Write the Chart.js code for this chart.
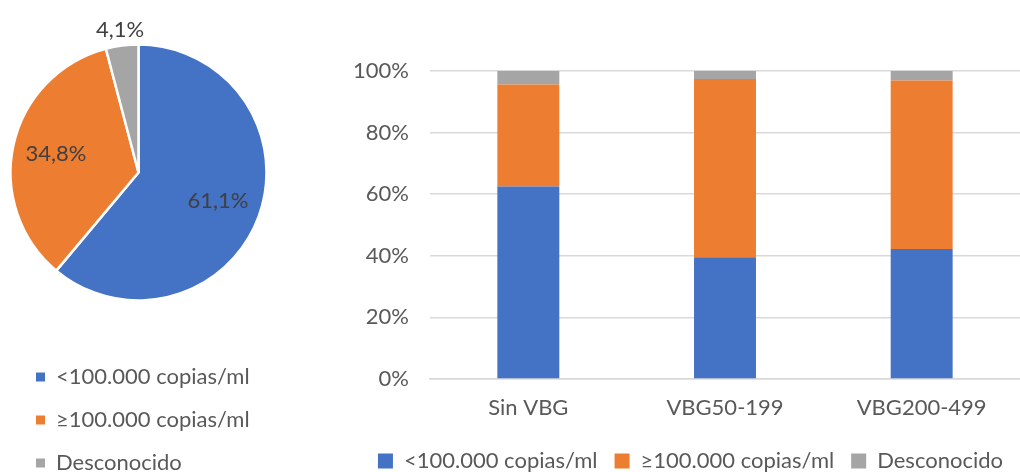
<!DOCTYPE html>
<html>
<head>
<meta charset="utf-8">
<script src="https://cdn.jsdelivr.net/npm/chart.js@4.4.1/dist/chart.umd.min.js"></script>
<style>
  body { margin: 0; width: 1020px; height: 472px; overflow: hidden; background: #fff; }
  #pieBox { position: absolute; left: 0; top: 0; }
  #barBox { position: absolute; left: 330px; top: 0; }
</style>
</head>
<body>
<div id="pieBox"><canvas id="pie" width="300" height="484"></canvas></div>
<div id="barBox"><canvas id="bars" width="690" height="482"></canvas></div>
<script>
const series = ["<100.000 copias/ml", "\u2265100.000 copias/ml", "Desconocido"];
const colors = ["#4472C4", "#ED7D31", "#A5A5A5"];

// pie: total
const pieValues = [61.1, 34.8, 4.1];

// stacked bars, % per group
const groups = ["Sin VBG", "VBG50-199", "VBG200-499"];
const bajo = [62.5, 39.5, 42.2];
const alto = [33.1, 57.9, 54.7];
const desconocido = [4.4, 2.6, 3.1];

const FONT = "Lato";
const FONT_SIZE = 22;
const textGray = "#595959";

// etiquetas de porcentaje en el pastel
const pieLabels = {
  id: "pieLabels",
  afterDatasetsDraw(chart) {
    const ctx = chart.ctx;
    const meta = chart.getDatasetMeta(0);
    ctx.save();
    ctx.font = FONT_SIZE + "px " + FONT;
    ctx.fillStyle = "#404040";
    ctx.textAlign = "center";
    ctx.textBaseline = "middle";
    meta.data.forEach((arc, i) => {
      const p = arc.getProps(["x", "y", "startAngle", "endAngle", "outerRadius"], true);
      const mid = (p.startAngle + p.endAngle) / 2;
      const v = pieValues[i];
      const k = v < 10 ? 1.12 : 0.66;
      const x = p.x + Math.cos(mid) * p.outerRadius * k;
      const y = p.y + Math.sin(mid) * p.outerRadius * k;
      ctx.fillText(v.toFixed(1).replace(".", ",") + "%", x, y);
    });
    ctx.restore();
  }
};

new Chart(document.getElementById("pie"), {
  type: "pie",
  data: {
    labels: series,
    datasets: [{
      data: pieValues,
      backgroundColor: colors,
      borderColor: "#ffffff",
      borderWidth: 2.5,
      clip: false
    }]
  },
  options: {
    responsive: false,
    animation: false,
    radius: 128,
    layout: { padding: { left: 15, right: 38, top: 0, bottom: 0 } },
    plugins: {
      tooltip: { enabled: false },
      legend: {
        position: "bottom",
        align: "start",
        labels: {
          boxWidth: 9,
          boxHeight: 9,
          padding: 21,
          color: textGray,
          font: { family: FONT, size: FONT_SIZE },
          generateLabels(chart) {
            const items = Chart.overrides.pie.plugins.legend.labels.generateLabels(chart);
            items.forEach(it => { it.lineWidth = 0; });
            return items;
          }
        }
      }
    }
  },
  plugins: [pieLabels]
});

new Chart(document.getElementById("bars"), {
  type: "bar",
  data: {
    labels: groups,
    datasets: [
      { label: series[0], data: bajo, backgroundColor: colors[0] },
      { label: series[1], data: alto, backgroundColor: colors[1] },
      { label: series[2], data: desconocido, backgroundColor: colors[2] }
    ]
  },
  options: {
    responsive: false,
    animation: false,
    categoryPercentage: 1,
    barPercentage: 0.315,
    layout: { padding: { left: 22, right: 0, top: 71, bottom: 0 } },
    scales: {
      x: {
        stacked: true,
        grid: { display: false },
        border: { color: "#d9d9d9", width: 1.5 },
        ticks: { color: textGray, font: { family: FONT, size: FONT_SIZE }, padding: 8, maxRotation: 0 },
        afterFit(scale) { scale.height = 54; }
      },
      y: {
        stacked: true,
        min: 0,
        max: 100,
        grid: { color: "#d9d9d9", lineWidth: 1.5, drawTicks: false },
        border: { display: false },
        ticks: {
          stepSize: 20,
          color: textGray,
          font: { family: FONT, size: FONT_SIZE },
          padding: 21,
          callback: v => v + "%"
        },
        afterFit(scale) { scale.width = 78; }
      }
    },
    plugins: {
      tooltip: { enabled: false },
      legend: {
        position: "bottom",
        align: "end",
        labels: {
          boxWidth: 15,
          boxHeight: 15,
          padding: 17,
          color: textGray,
          font: { family: FONT, size: FONT_SIZE }
        }
      }
    }
  }
});
</script>
</body>
</html>
